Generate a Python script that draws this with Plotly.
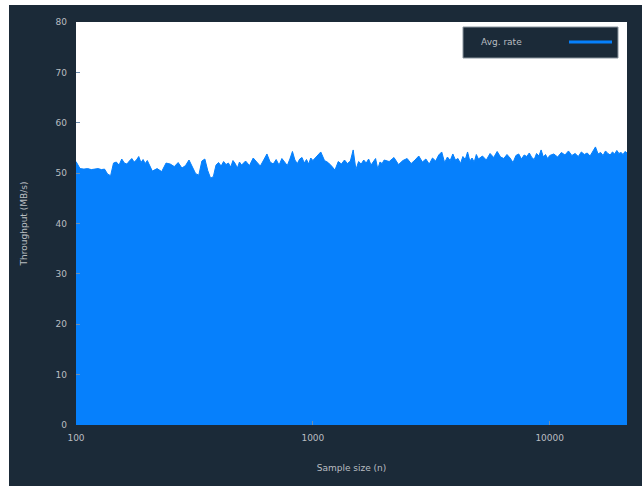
import plotly.graph_objects as go

# Sample sizes at which the rate was measured
sizes = [
    100, 104, 108, 112, 116, 120, 124, 128, 132, 136, 140, 144, 148, 152, 156,
    160, 164, 168, 172, 176, 180, 184, 188, 192, 196, 200,
    210, 220, 230, 240, 250, 260, 270, 280, 290, 300, 310, 320, 330, 340, 350,
    360, 370, 380, 390, 400, 410, 420, 430, 440, 450, 460, 470, 480, 490, 500,
    520, 540, 560, 580, 600, 620, 640, 660, 680, 700, 720, 740, 760, 780, 800,
    820, 840, 860, 880, 900, 920, 940, 960, 980, 1000,
    1040, 1080, 1120, 1160, 1200, 1240, 1280, 1320, 1360, 1400, 1440, 1480,
    1520, 1560, 1600, 1640, 1680, 1720, 1760, 1800, 1840, 1880, 1920, 1960, 2000,
    2100, 2200, 2300, 2400, 2500, 2600, 2700, 2800, 2900, 3000, 3100, 3200,
    3300, 3400, 3500, 3600, 3700, 3800, 3900, 4000, 4100, 4200, 4300, 4400,
    4500, 4600, 4700, 4800, 4900, 5000,
    5200, 5400, 5600, 5800, 6000, 6200, 6400, 6600, 6800, 7000, 7200, 7400,
    7600, 7800, 8000, 8200, 8400, 8600, 8800, 9000, 9200, 9400, 9600, 9800, 10000,
    10400, 10800, 11200, 11600, 12000, 12400, 12800, 13200, 13600, 14000, 14400,
    14800, 15200, 15600, 16000, 16400, 16800, 17200, 17600, 18000, 18400, 18800,
    19200, 19600, 20000, 20400, 20800, 21200,
]

# Measured rate for each sample size
rate = [
    52.3, 50.9, 50.8, 50.9, 50.7, 50.8, 50.9, 50.7, 50.8, 49.8, 49.5, 52.0, 52.2,
    51.6, 52.8, 52.0, 51.8, 52.4, 52.9, 52.2, 52.6, 53.3, 52.1, 52.7, 51.9, 52.5,
    50.4, 50.9, 50.3, 52.0, 51.8, 51.3, 52.1, 51.0, 51.5, 52.6, 51.2, 49.9, 49.6,
    52.4, 52.8, 50.5, 49.0, 49.3, 51.6, 52.1, 51.4, 52.3, 51.7, 52.0, 51.2, 52.5,
    51.9, 51.0, 52.2, 51.6,
    52.4, 51.5, 53.0, 52.1, 51.4, 52.6, 53.8, 52.2, 51.8, 52.7, 51.6, 52.9, 52.3,
    51.5, 52.8, 54.3, 52.6, 51.9, 52.8, 53.1, 52.0, 52.7, 51.8, 53.0, 52.5,
    53.4, 54.2, 52.5, 52.1, 51.4, 50.6, 52.3, 51.8, 52.6, 51.9, 52.4, 54.6, 50.7,
    52.3, 51.8, 52.6, 52.0, 52.8, 51.6, 52.4, 52.9, 50.8, 52.2, 51.9, 52.6,
    52.3, 53.1, 51.7, 52.5, 52.9, 51.9, 52.6, 53.4, 52.2, 52.8, 51.8, 53.0, 52.4,
    53.6, 54.2, 52.1, 53.2, 52.5, 53.8, 52.6, 52.9, 51.9, 53.3, 52.7, 54.2, 52.4,
    53.0, 52.2, 53.7, 52.8,
    53.4, 52.6, 53.9, 53.1, 54.3, 53.2, 52.9, 53.7, 53.0, 52.1, 53.5, 53.8, 52.8,
    53.6, 53.3, 54.0, 53.1, 52.7, 53.9, 53.4, 54.6, 53.2, 53.7, 52.9, 53.5,
    53.8, 53.2, 54.1, 53.6, 54.4, 53.5, 53.9, 53.3, 54.2, 53.7, 54.0, 53.4, 54.3,
    55.2, 53.8, 54.1, 53.5, 54.4, 53.9, 53.6, 54.2, 53.8, 54.5, 53.9, 54.1, 53.7,
    54.3, 54.0,
]

x_ticks = [100, 1000, 10000]
y_ticks = [0, 10, 20, 30, 40, 50, 60, 70, 80]

series_name = "Avg. rate"
x_title = "Sample size (n)"
y_title = "Throughput (MB/s)"

BG = "#1b2a38"
BLUE = "#0680fc"
TEXT = "#b9bdc1"
FONT = "DejaVu Sans"

fig = go.Figure()
fig.add_trace(go.Scatter(
    x=sizes, y=rate, name=series_name, mode="lines",
    line=dict(color=BLUE, width=1), fill="tozeroy", fillcolor=BLUE,
    showlegend=False,
))

# pixel geometry of the plotting area
W, H = 642, 486
L, R, T, B = 76, 15, 22, 61
pw, ph = W - L - R, H - T - B


def px(x):
    return (x - L) / pw


def py(y):
    return (H - B - y) / ph


shapes = [
    # thin light strips along the left and top edges of the page
    dict(type="rect", xref="paper", yref="paper", x0=px(0), x1=px(9),
         y0=py(H), y1=py(0), fillcolor="white", line=dict(width=0), layer="above"),
    dict(type="rect", xref="paper", yref="paper", x0=px(0), x1=px(W),
         y0=py(5), y1=py(0), fillcolor="white", line=dict(width=0), layer="above"),
    # legend box
    dict(type="rect", xref="paper", yref="paper", x0=px(463), x1=px(618),
         y0=py(58), y1=py(27), fillcolor=BG, line=dict(color="#8a949d", width=1),
         layer="above"),
    dict(type="line", xref="paper", yref="paper", x0=px(569), x1=px(612),
         y0=py(42), y1=py(42), line=dict(color=BLUE, width=3), layer="above"),
]

annotations = [
    dict(text=series_name, xref="paper", yref="paper", x=px(479), y=py(42),
         xanchor="left", yanchor="middle", showarrow=False,
         font=dict(family=FONT, size=9, color=TEXT)),
]

fig.update_layout(
    width=W, height=H,
    margin=dict(l=L, r=R, t=T, b=B, pad=0),
    paper_bgcolor=BG, plot_bgcolor="white",
    font=dict(family=FONT, size=9, color=TEXT),
    shapes=shapes, annotations=annotations,
    showlegend=False,
)

fig.update_xaxes(
    type="log", range=[2, 4.3263], tickvals=x_ticks,
    ticktext=[str(v) for v in x_ticks],
    ticks="inside", ticklen=4, tickcolor="#6f8fb0", ticklabelstandoff=6,
    showgrid=False, zeroline=False, showline=False,
    title=dict(text=x_title, standoff=22, font=dict(size=9, color=TEXT)),
    automargin=False,
)
fig.update_yaxes(
    range=[0, 80], tickvals=y_ticks,
    ticks="inside", ticklen=4, tickcolor="#6f8fb0", ticklabelstandoff=8,
    showgrid=False, zeroline=False, showline=False,
    title=dict(text=y_title, standoff=26, font=dict(size=9, color=TEXT)),
    automargin=False,
)

fig.write_html(
    "out.html",
    post_script=f"document.body.style.margin='0';document.body.style.background='{BG}';",
)
